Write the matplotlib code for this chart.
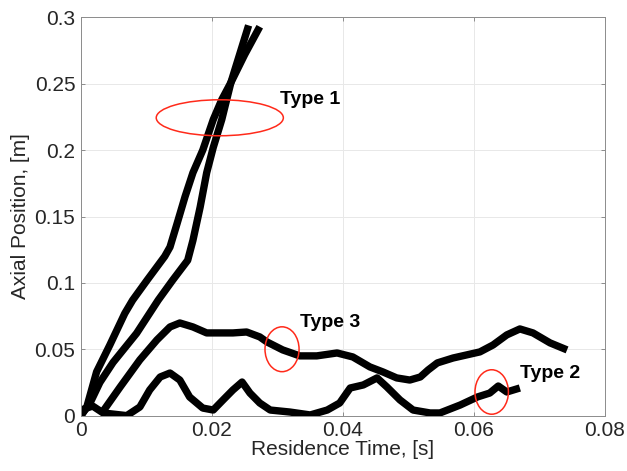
import matplotlib
matplotlib.use('Agg')
import matplotlib.pyplot as plt
from matplotlib.patches import Ellipse

plt.rcParams['font.family'] = ['Liberation Sans', 'DejaVu Sans']

# particle tracks: residence time [s] vs axial position [m]
t1a = [0.0, 0.0009, 0.0024, 0.0044, 0.0067, 0.0079, 0.0101, 0.0128, 0.0136, 0.0147, 0.0159, 0.0171,
       0.0186, 0.0202, 0.0215, 0.0229, 0.0250, 0.0273]
z1a = [0.0, 0.0065, 0.033, 0.053, 0.077, 0.087, 0.102, 0.120, 0.127, 0.145, 0.165, 0.183,
       0.200, 0.223, 0.238, 0.251, 0.272, 0.293]

t1b = [0.0, 0.0014, 0.0029, 0.0049, 0.0085, 0.0118, 0.0140, 0.0163, 0.0171, 0.0182, 0.0192, 0.0202,
       0.0215, 0.0229, 0.0256]
z1b = [0.0, 0.0095, 0.025, 0.040, 0.062, 0.087, 0.102, 0.117, 0.132, 0.157, 0.183, 0.202,
       0.223, 0.251, 0.294]

t3 = [0.0032, 0.0060, 0.0090, 0.0116, 0.0136, 0.0151, 0.0171, 0.0192, 0.0212, 0.0232, 0.0253, 0.0273,
      0.0284, 0.0308, 0.0334, 0.0360, 0.0391, 0.0415, 0.0441, 0.0461, 0.0482, 0.0502, 0.0518, 0.0530,
      0.0544, 0.0568, 0.0609, 0.0629, 0.0650, 0.0670, 0.0690, 0.0716, 0.0742]
z3 = [0.002, 0.0216, 0.042, 0.057, 0.0668, 0.0698, 0.0668, 0.0623, 0.0623, 0.0623, 0.063, 0.0593,
      0.0555, 0.0495, 0.045, 0.045, 0.0472, 0.0442, 0.0367, 0.0329, 0.0284, 0.0268, 0.0291, 0.0344,
      0.0397, 0.0434, 0.048, 0.0532, 0.0608, 0.0653, 0.0623, 0.0548, 0.0495]

t2 = [0.0, 0.0018, 0.0034, 0.0070, 0.0090, 0.0105, 0.0121, 0.0136, 0.0151, 0.0166, 0.0186, 0.0202,
      0.0217, 0.0232, 0.0246, 0.0258, 0.0273, 0.0289, 0.0319, 0.0350, 0.0376, 0.0395, 0.0411, 0.0431,
      0.0452, 0.0467, 0.0487, 0.0507, 0.0533, 0.0548, 0.0579, 0.0605, 0.0624, 0.0637, 0.0650, 0.0660,
      0.0670]
z2 = [0.0042, 0.0072, 0.002, 0.0, 0.0065, 0.0193, 0.0291, 0.0321, 0.0268, 0.014, 0.0057, 0.0042,
      0.0118, 0.0193, 0.0253, 0.017, 0.0095, 0.0042, 0.0027, 0.0005, 0.0042, 0.0095, 0.0208, 0.0231,
      0.0284, 0.0216, 0.0118, 0.0042, 0.002, 0.002, 0.008, 0.014, 0.017, 0.0223, 0.0178, 0.0193,
      0.0208]

# highlighted regions (centre x, centre y, width, height)
circles = [(0.0212, 0.2244, 0.0194, 0.0271),
           (0.0307, 0.050, 0.0052, 0.0338),
           (0.0627, 0.0178, 0.0051, 0.0335)]
labels = ['Type 1', 'Type 3', 'Type 2']
label_pos = [(0.0304, 0.238), (0.0334, 0.0705), (0.0670, 0.0315)]

fig = plt.figure(figsize=(6.27, 4.71), dpi=100)
ax = fig.add_axes([0.129, 0.1176, 0.836, 0.8454])

for t, z in [(t1a, z1a), (t1b, z1b), (t3, z3), (t2, z2)]:
    ax.plot(t, z, color='black', linewidth=5.3, solid_capstyle='butt', solid_joinstyle='round')

for (cx, cy, w, h) in circles:
    ax.add_patch(Ellipse((cx, cy), w, h, fill=False, edgecolor='#ff2a1a', linewidth=1.1, zorder=5))

for lab, (lx, ly) in zip(labels, label_pos):
    ax.text(lx, ly, lab, fontsize=14, fontweight='bold', ha='left', va='center')

ax.set_xlim(0, 0.08)
ax.set_ylim(0, 0.3)
ax.set_xticks([0, 0.02, 0.04, 0.06, 0.08])
ax.set_xticklabels(['0', '0.02', '0.04', '0.06', '0.08'])
ax.set_yticks([0, 0.05, 0.1, 0.15, 0.2, 0.25, 0.3])
ax.set_yticklabels(['0', '0.05', '0.1', '0.15', '0.2', '0.25', '0.3'])
ax.grid(True, color='#e8e8e8', linewidth=0.7)
ax.set_axisbelow(True)
for s in ax.spines.values():
    s.set_color('#8c8c8c')
    s.set_linewidth(0.7)
ax.tick_params(direction='in', length=3, width=0.7, color='#8c8c8c', labelsize=15, labelcolor='#262626',
               top=True, right=True, labeltop=False, labelright=False, pad=4)
ax.set_xlabel('Residence Time, [s]', fontsize=15, color='#262626', labelpad=0)
ax.set_ylabel('Axial Position, [m]', fontsize=15, color='#262626', labelpad=3)

fig.savefig('out.png', dpi=100)
